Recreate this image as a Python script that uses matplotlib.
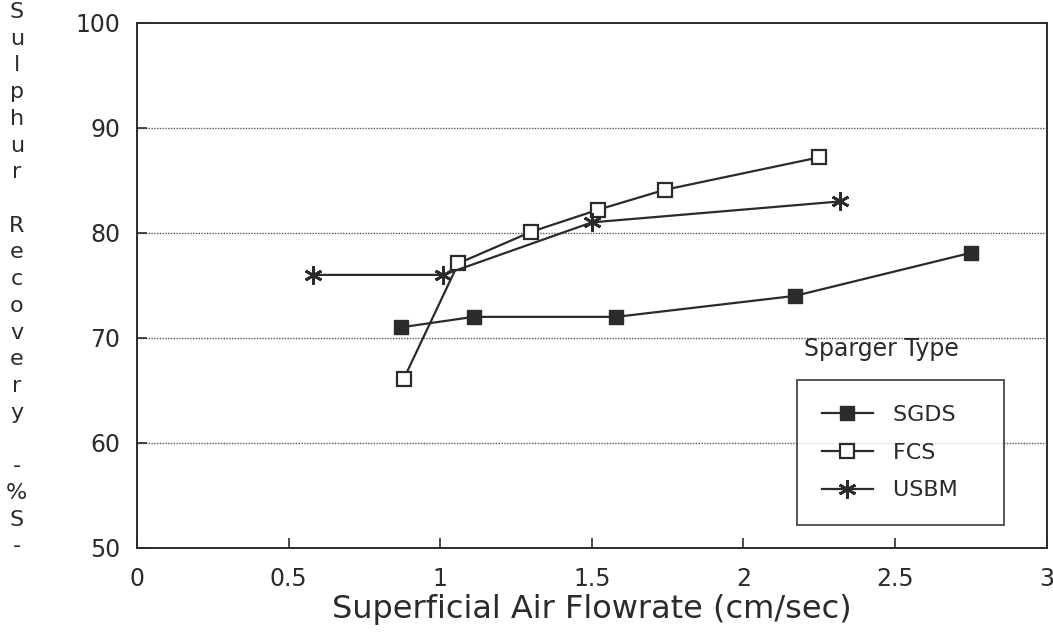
import matplotlib
matplotlib.use("Agg")
import matplotlib.pyplot as plt

# ── data ──
sgds_x = [0.87, 1.11, 1.58, 2.17, 2.75]
sgds_y = [71.0, 72.0, 72.0, 74.0, 78.1]

fcs_x = [0.88, 1.06, 1.30, 1.52, 1.74, 2.25]
fcs_y = [66.1, 77.1, 80.1, 82.2, 84.1, 87.2]

usbm_x = [0.58, 1.01, 1.50, 2.32]
usbm_y = [76.0, 76.0, 81.0, 83.0]

x_ticks = [0, 0.5, 1, 1.5, 2, 2.5, 3]
x_tick_labels = ["0", "0.5", "1", "1.5", "2", "2.5", "3"]
y_ticks = [50, 60, 70, 80, 90, 100]
grid_levels = [60, 70, 80, 90]
y_label_chars = ["S", "u", "l", "p", "h", "u", "r", "", "R", "e", "c", "o",
                 "v", "e", "r", "y", "", "-", "%", "S", "-"]

ink = "#2b2b2b"
plt.rcParams["font.family"] = ["DejaVu Sans"]

fig = plt.figure(figsize=(10.53, 6.37), dpi=100)
ax = fig.add_axes([0.130, 0.140, 0.864, 0.824])

for g in grid_levels:
    ax.axhline(g, color="#555555", linestyle=(0, (1, 1)), linewidth=1.0, zorder=1)

ax.plot(sgds_x, sgds_y, color=ink, linewidth=1.6, marker="s", markersize=10,
        markerfacecolor=ink, markeredgecolor=ink, label="SGDS", zorder=3)
ax.plot(fcs_x, fcs_y, color=ink, linewidth=1.6, marker="s", markersize=10,
        markerfacecolor="white", markeredgecolor=ink, markeredgewidth=1.6,
        label="FCS", zorder=3)
ax.plot(usbm_x, usbm_y, color=ink, linewidth=1.6, marker=(6, 2, 0), markersize=13,
        markeredgewidth=2.0, markeredgecolor=ink, label="USBM", zorder=4)

ax.set_xlim(0, 3)
ax.set_ylim(50, 100)
ax.set_xticks(x_ticks)
ax.set_xticklabels(x_tick_labels)
ax.set_yticks(y_ticks)
ax.tick_params(direction="in", length=7, width=1.2, colors=ink, labelsize=17)
ax.tick_params(axis="x", pad=14)
ax.tick_params(axis="y", pad=12)
for s in ax.spines.values():
    s.set_color(ink)
    s.set_linewidth(1.4)

ax.set_xlabel("Superficial Air Flowrate (cm/sec)", fontsize=23, color=ink,
              labelpad=2)

# stacked y-axis label
fig.text(0.016, 0.997, "\n".join(y_label_chars), ha="center", va="top",
         fontsize=16, color=ink, linespacing=1.42)

leg = ax.legend(loc="lower left", bbox_to_anchor=(0.726, 0.044), fontsize=16,
                frameon=True, fancybox=False, borderpad=1.1, labelspacing=0.8,
                handlelength=2.3, handletextpad=0.9, borderaxespad=0)
leg.get_frame().set_edgecolor(ink)
leg.get_frame().set_linewidth(1.4)
for t in leg.get_texts():
    t.set_color(ink)
    t.set_text(t.get_text() + "   ")
ax.text(0.733, 0.356, "Sparger Type", transform=ax.transAxes, fontsize=17,
        color=ink, ha="left", va="bottom")

fig.savefig("out.png", dpi=100)
